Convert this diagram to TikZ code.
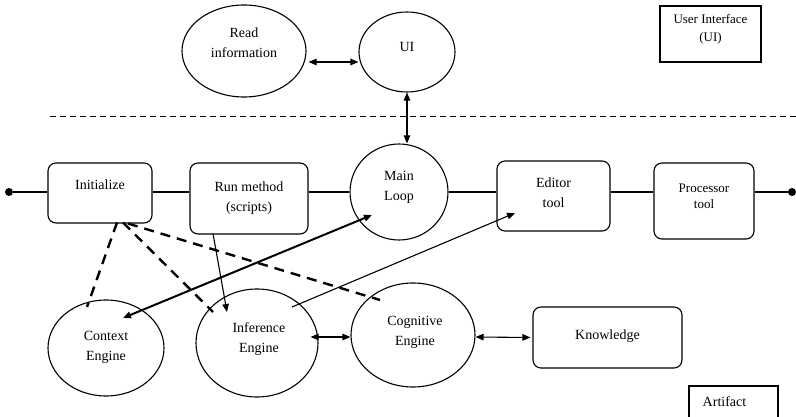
\documentclass[tikz,border=0pt]{standalone}
\usepackage{fontspec}
\setmainfont{Liberation Serif}
\usetikzlibrary{arrows.meta,calc,shapes.geometric}

\begin{document}
\begin{tikzpicture}[x=1pt,y=-1pt,
  shape box/.style={draw, rounded corners=8pt, line width=1.1pt, inner sep=0pt},
  oval/.style={draw, ellipse, line width=1.1pt, inner sep=0pt},
  txt/.style={align=center, inner sep=0pt, font=\fontsize{14}{20}\selectfont},
  smalltxt/.style={align=center, inner sep=0pt, font=\fontsize{13}{16}\selectfont},
  flow/.style={line width=2pt},
  dot/.style={circle, fill, inner sep=0pt, minimum size=8pt},
  tip/.tip={Triangle[length=8pt,width=6.5pt]},
  link/.style={line width=1.1pt, tip-tip},
  biglink/.style={line width=2pt, tip-tip},
  oneway/.style={line width=1.1pt, -tip},
  dep/.style={line width=2.4pt, dash pattern=on 10pt off 7pt},
  sep/.style={line width=1pt, dash pattern=on 6pt off 4pt}]
\useasboundingbox (0,0) rectangle (796,417);
\clip (0,0) rectangle (796,417);

% ---- user interface layer ----
\node[oval, minimum width=124pt, minimum height=92pt] (read) at (244,51) {};
\node[txt] (readT) at (244,42.5) {Read\\information};
\node[oval, minimum width=96pt, minimum height=80pt] (ui) at (407,52) {};
\node[txt] (uiT) at (407,47) {UI};
\node[draw, line width=1.1pt, minimum width=101pt, minimum height=56pt, inner sep=0pt] (uibox) at (710.5,34) {};
\node[smalltxt, font=\fontsize{13}{18}\selectfont] (uiboxT) at (710.5,29) {User Interface\\(UI)};

\draw[link] ($(read.east)+(2,11)$) -- ($(ui.west)+(0,10)$);

% layer separator
\coordinate (sepL) at (50,117);
\coordinate (sepR) at (796,117);
\draw[sep] (sepL) -- (sepR);

% ---- main flow ----
\node[dot] (start) at (9,192) {};
\node[dot] (stop) at (792,192) {};
\node[shape box, minimum width=104pt, minimum height=60pt] (init) at (100,193) {};
\node[txt] (initT) at (100,185) {Initialize};
\node[shape box, minimum width=118pt, minimum height=71pt] (run) at (249,198.5) {};
\node[txt] (runT) at (249,198) {Run method\\(scripts)};
\node[oval, minimum width=98pt, minimum height=96pt] (loop) at (399,192) {};
\node[txt] (loopT) at (399,187.5) {Main\\Loop};
\node[shape box, minimum width=113pt, minimum height=70pt] (editor) at (553.5,196) {};
\node[txt] (editorT) at (553.5,192.5) {Editor\\tool};
\node[shape box, minimum width=100pt, minimum height=76pt] (proc) at (704,201) {};
\node[smalltxt] (procT) at (704,196) {Processor\\tool};

\draw[flow] (start) -- (start -| init.west);
\draw[flow] (start -| init.east) -- (start -| run.west);
\draw[flow] (start -| run.east) -- (loop.west);
\draw[flow] (loop.east) -- (start -| editor.west);
\draw[flow] (start -| editor.east) -- (start -| proc.west);
\draw[flow] (start -| proc.east) -- (stop);

\draw[link] (ui.south) -- (ui.south |- loop.north);

% ---- engines ----
\node[oval, minimum width=116pt, minimum height=96pt] (ctx) at (106,348) {};
\node[txt] (ctxT) at (106,347.5) {Context\\Engine};
\node[oval, minimum width=122pt, minimum height=108pt] (inf) at (257,343) {};
\node[txt] (infT) at (259,339) {Inference\\Engine};
\node[oval, minimum width=124pt, minimum height=104pt] (cog) at (413,335) {};
\node[txt] (cogT) at (415,332.5) {Cognitive\\Engine};
\node[shape box, minimum width=149pt, minimum height=61pt] (know) at (607.5,337.5) {};
\node[txt] (knowT) at (607.5,336) {Knowledge};
\draw[line width=1.1pt] (689,420) -- (689,386) -- (778,386) -- (778,420);
\node[txt] (artT) at (724.5,402) {Artifact};

% dependencies of the initialisation step
\draw[dep] ($(init.south)+(17,-1)$) -- ($(ctx.center)+(-19,-41)$);
\draw[dep] ($(init.south)+(23,-1)$) -- ($(inf.center)+(-44,-31)$);
\draw[dep] ($(init.south)+(28,0)$) -- ($(cog.center)+(-33,-35)$);

% message flow
\draw[biglink] ($(ctx.center)+(17,-30)$) -- ($(loop.center)+(-27,23)$);
\draw[oneway] ($(run.south)+(-36,-1)$) -- ($(inf.center)+(-30,-31)$);
\draw[oneway] ($(inf.center)+(35,-36)$) -- ($(editor.center)+(-38.5,17)$);
\draw[link] ($(inf.east)+(-8,-6)$) -- ($(cog.west)+(0,2)$);
\draw[link] ($(cog.east)+(0,2)$) -- ($(know.west)+(-2,0)$);
\end{tikzpicture}
\end{document}
